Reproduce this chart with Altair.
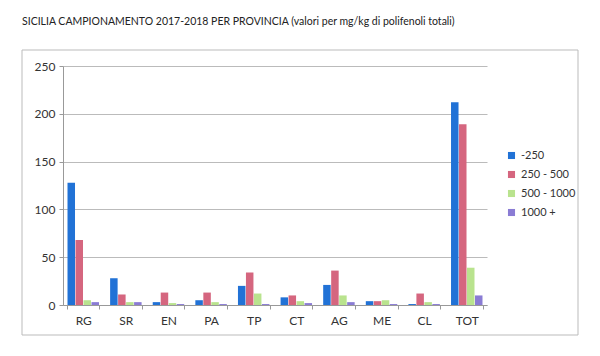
import altair as alt
import pandas as pd

categories = ["RG", "SR", "EN", "PA", "TP", "CT", "AG", "ME", "CL", "TOT"]
series_names = ["-250", "250 - 500", "500 - 1000", "1000 +"]
v_lt250 = [128, 28, 3, 5, 20, 8, 21, 4, 1, 212]
v_250_500 = [68, 11, 13, 13, 34, 10, 36, 4, 12, 189]
v_500_1000 = [5, 3, 2, 3, 12, 4, 10, 5, 3, 39]
v_1000p = [3, 3, 1, 1, 1, 2, 3, 1, 1, 10]
colors = ["#2172d6", "#d5667f", "#b9e38e", "#8a7cd4"]

rows = []
for i, c in enumerate(categories):
    for s, vals in zip(series_names, [v_lt250, v_250_500, v_500_1000, v_1000p]):
        rows.append({"cat": c, "serie": s, "val": vals[i]})
df = pd.DataFrame(rows)

FONT = "Lato"

bars = alt.Chart(df).mark_bar(size=7.5).encode(
    x=alt.X("cat:N", sort=categories, title=None,
            scale=alt.Scale(paddingInner=0.25, paddingOuter=0.1),
            axis=alt.Axis(labelAngle=0, tickBand="extent", labelFontSize=12,
                          labelFont=FONT, labelColor="#333", domainColor="#999",
                          tickColor="#999", labelPadding=6, tickSize=4)),
    xOffset=alt.XOffset("serie:N", sort=series_names),
    y=alt.Y("val:Q", title=None,
            scale=alt.Scale(domain=[0, 250]),
            axis=alt.Axis(values=[0, 50, 100, 150, 200, 250], labelFontSize=12,
                          labelFont=FONT, labelColor="#333", domainColor="#999",
                          tickColor="#999", gridColor="#bbb", tickSize=4, labelPadding=4)),
    color=alt.Color("serie:N", sort=series_names,
                    scale=alt.Scale(domain=series_names, range=colors),
                    legend=alt.Legend(title=None, orient="none", legendX=443, legendY=84,
                                      symbolType="square", symbolSize=50,
                                      labelFont=FONT, labelFontSize=11, labelColor="#333",
                                      rowPadding=7, symbolStrokeWidth=0)),
)

frame = alt.Chart(pd.DataFrame({"a": [0]})).mark_rect(
    fillOpacity=0, stroke="#bbb", strokeWidth=1
).encode(
    x=alt.value(-41), x2=alt.value(515), y=alt.value(-16), y2=alt.value(269)
)

chart = alt.layer(frame, bars).properties(
    width=424, height=239,
    autosize=alt.AutoSizeParams(type="none"),
    padding={"left": 55, "top": 58, "right": 105, "bottom": 43},
    title=alt.TitleParams(
        "SICILIA CAMPIONAMENTO 2017-2018 PER PROVINCIA (valori per mg/kg di polifenoli totali)",
        anchor="start", frame="group", dx=-41, offset=22, fontSize=10.5, font=FONT,
        fontWeight="normal", color="#222"),
).configure_view(stroke=None)

chart.save("out.html", embed_options={"renderer": "svg", "actions": False})
